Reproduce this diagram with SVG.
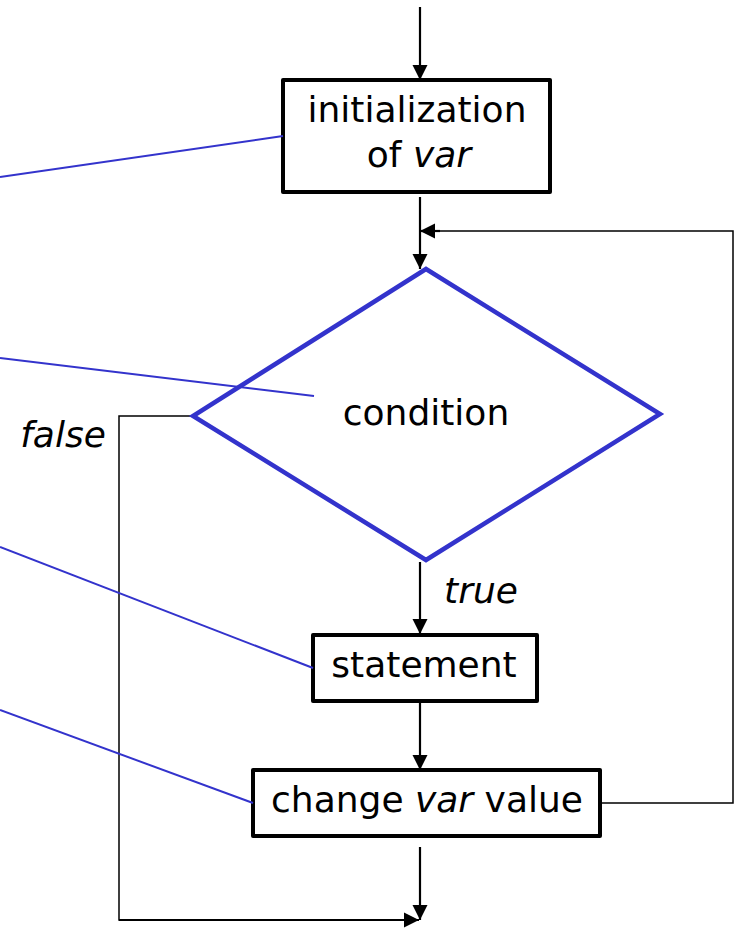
<svg xmlns="http://www.w3.org/2000/svg" width="734" height="930" viewBox="0 0 734 930">
<style>
.box{fill:#fff;stroke:#000;stroke-width:4;stroke-linejoin:round}
.dia{fill:#fff;stroke:#3333cc;stroke-width:4.5;stroke-linejoin:miter}
.t{font-family:"DejaVu Sans",sans-serif;font-size:36px;fill:#000;text-anchor:middle}
.i{font-style:italic}
.arr{fill:none;stroke:#000;stroke-width:2.2}
.thin{fill:none;stroke:#000;stroke-width:1.5}
.ann{fill:none;stroke:#3333cc;stroke-width:2}
</style>
<defs>
<marker id="ah" markerUnits="userSpaceOnUse" markerWidth="18" markerHeight="18" viewBox="0 0 18 18" refX="17" refY="9" orient="auto">
<path d="M2,1.5 L17,9 L2,16.5 Z" fill="#000"/>
</marker>
</defs>
<g id="connectors">
<line class="arr" x1="420" y1="7" x2="420" y2="80" marker-end="url(#ah)"/>
<line class="arr" x1="420" y1="197" x2="420" y2="269" marker-end="url(#ah)"/>
<polyline class="thin" points="601,803 733,803 733,231 434,231"/>
<line class="arr" x1="440" y1="231" x2="420" y2="231" marker-end="url(#ah)"/>
<line class="arr" x1="420" y1="562" x2="420" y2="634" marker-end="url(#ah)"/>
<line class="arr" x1="420" y1="702" x2="420" y2="770" marker-end="url(#ah)"/>
<line class="arr" x1="420" y1="847" x2="420" y2="920" marker-end="url(#ah)"/>
<polyline class="thin" points="193,416 119,416 119,920 405,920"/>
<line class="arr" x1="119" y1="920" x2="419" y2="920" marker-end="url(#ah)"/>
</g>
<g id="init">
<rect class="box" x="283" y="80" width="267" height="112"/>
<text class="t" x="417" y="122">initialization</text>
<text class="t" x="419" y="167">of <tspan class="i">var</tspan></text>
</g>
<g id="condition">
<polygon class="dia" points="426,269 660,414 426,560 193,416"/>
<text class="t" x="426" y="425">condition</text>
</g>
<g id="false-label">
<text class="t i" x="63" y="447">false</text>
</g>
<g id="true-label">
<text class="t i" x="481" y="603">true</text>
</g>
<g id="statement">
<rect class="box" x="313" y="635" width="224" height="66"/>
<text class="t" x="424" y="677">statement</text>
</g>
<g id="change">
<rect class="box" x="253" y="770" width="347" height="66"/>
<text class="t" x="427" y="812">change <tspan class="i">var</tspan> value</text>
</g>
<g id="annotation-lines">
<line class="ann" x1="0" y1="177" x2="283" y2="136"/>
<line class="ann" x1="0" y1="358" x2="314" y2="396"/>
<line class="ann" x1="0" y1="547" x2="313" y2="668"/>
<line class="ann" x1="0" y1="710" x2="253" y2="803"/>
</g>
</svg>
